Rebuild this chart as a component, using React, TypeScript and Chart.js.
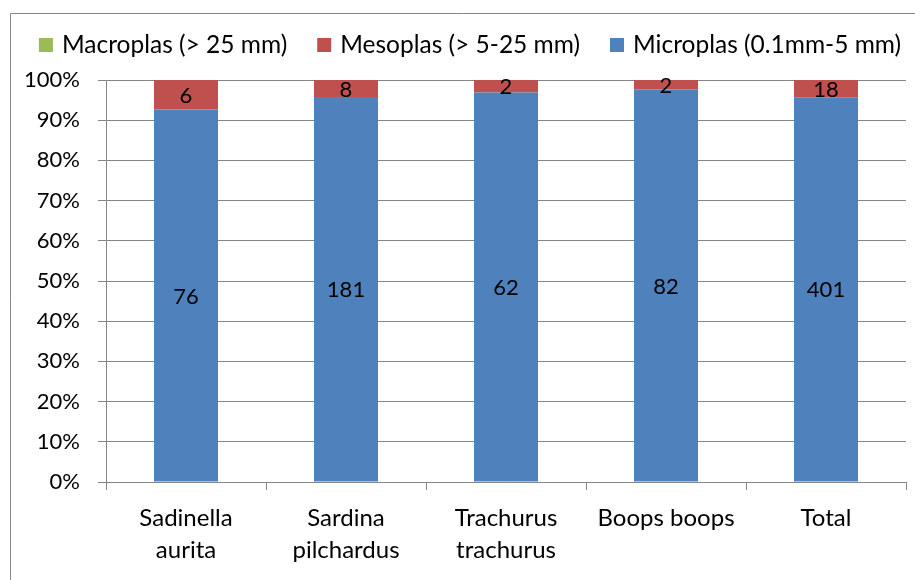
import React, { useEffect, useRef } from "react";
import { Chart, registerables } from "chart.js";

Chart.register(...registerables);

const categories: (string | string[])[] = [
  ["Sadinella", "aurita"],
  ["Sardina", "pilchardus"],
  ["Trachurus", "trachurus"],
  "Boops boops",
  "Total",
];
const microplas = [76, 181, 62, 82, 401];
const mesoplas = [6, 8, 2, 2, 18];
const macroplas = [0, 0, 0, 0, 0];
const seriesNames = ["Microplas (0.1mm-5 mm)", "Mesoplas (> 5-25 mm)", "Macroplas (> 25 mm)"];
const seriesColors = ["#4F81BD", "#C0504D", "#9BBB59"];
const yTicks = [0, 10, 20, 30, 40, 50, 60, 70, 80, 90, 100];

const FONT = "Lato";
const TEXT_FS = 24;
const LEGEND_FS = 24.5;
const NUM_FS = 22;
const YTICK_FS = 22;
const GRID = "#868686";

const totals = microplas.map((v, i) => v + mesoplas[i] + macroplas[i]);
const pct = (arr: number[]) => arr.map((v, i) => (v / totals[i]) * 100);
const rawSeries = [microplas, mesoplas, macroplas];

const framePlugin = {
  id: "frame",
  beforeDraw(chart: any) {
    const ctx = chart.ctx;
    ctx.save();
    ctx.fillStyle = "#fff";
    ctx.fillRect(0, 0, chart.width, chart.height);
    ctx.strokeStyle = GRID;
    ctx.lineWidth = 1;
    ctx.beginPath();
    ctx.moveTo(10.5, chart.height + 5);
    ctx.lineTo(10.5, 13.5);
    ctx.lineTo(chart.width + 5, 13.5);
    ctx.stroke();
    ctx.restore();
  },
};

const legendPlugin = {
  id: "customLegend",
  afterDraw(chart: any) {
    const ctx = chart.ctx;
    ctx.save();
    ctx.font = `${LEGEND_FS}px ${FONT}`;
    ctx.textBaseline = "middle";
    ctx.textAlign = "left";
    const box = 14;
    const gap = 9;
    const spacing = 30;
    const order = [2, 1, 0];
    const widths = order.map((i) => box + gap + ctx.measureText(seriesNames[i]).width);
    const total = widths.reduce((a, b) => a + b, 0) + spacing * (order.length - 1);
    let x = 470 - total / 2;
    const cy = 45;
    order.forEach((i, k) => {
      ctx.fillStyle = seriesColors[i];
      ctx.fillRect(x, cy - 7, box, box);
      ctx.fillStyle = "#000";
      ctx.fillText(seriesNames[i], x + box + gap, cy);
      x += widths[k] + spacing;
    });
    ctx.restore();
  },
};

const valueLabelPlugin = {
  id: "valueLabels",
  afterDatasetsDraw(chart: any) {
    const ctx = chart.ctx;
    ctx.save();
    ctx.font = `${NUM_FS}px ${FONT}`;
    ctx.fillStyle = "#000";
    ctx.textAlign = "center";
    ctx.textBaseline = "middle";
    chart.data.datasets.forEach((_ds: any, di: number) => {
      const meta = chart.getDatasetMeta(di);
      meta.data.forEach((bar: any, i: number) => {
        const raw = rawSeries[di][i];
        if (!raw) return;
        const y = (bar.y + bar.base) / 2;
        ctx.fillText(String(raw), bar.x, y + 1);
      });
    });
    ctx.restore();
  },
};

export default function App() {
  const ref = useRef<HTMLCanvasElement>(null);
  useEffect(() => {
    if (!ref.current) return;
    const chart = new Chart(ref.current, {
      type: "bar",
      data: {
        labels: categories,
        datasets: [
          { label: seriesNames[0], data: pct(microplas), backgroundColor: seriesColors[0] },
          { label: seriesNames[1], data: pct(mesoplas), backgroundColor: seriesColors[1] },
          { label: seriesNames[2], data: pct(macroplas), backgroundColor: seriesColors[2] },
        ],
      },
      options: {
        responsive: false,
        animation: false,
        events: [],
        layout: { padding: { top: 80, left: 0, right: 9, bottom: 0 } },
        datasets: { bar: { categoryPercentage: 1, barPercentage: 0.4 } },
        plugins: {
          legend: { display: false },
          tooltip: { enabled: false },
        },
        scales: {
          x: {
            stacked: true,
            afterFit: (s: any) => {
              s.height = 98;
            },
            grid: {
              offset: true,
              drawOnChartArea: false,
              drawTicks: true,
              tickLength: 8,
              color: GRID,
            },
            border: { color: GRID, width: 1 },
            ticks: {
              color: "#000",
              padding: 12,
              maxRotation: 0,
              autoSkip: false,
              font: { family: FONT, size: TEXT_FS, lineHeight: 32 / TEXT_FS },
            },
          },
          y: {
            stacked: true,
            min: 0,
            max: 100,
            afterFit: (s: any) => {
              s.width = 106;
            },
            afterBuildTicks: (s: any) => {
              s.ticks = yTicks.map((v) => ({ value: v }));
            },
            grid: { color: GRID, tickLength: 8 },
            border: { color: GRID, width: 1 },
            ticks: {
              color: "#000",
              padding: 18,
              font: { family: FONT, size: YTICK_FS },
              callback: (v: any) => `${v}%`,
            },
          },
        },
      },
      plugins: [framePlugin, valueLabelPlugin, legendPlugin],
    });
    return () => chart.destroy();
  }, []);
  return (
    <div style={{ position: "fixed", left: 0, top: 0, width: 915, height: 580, overflow: "hidden", background: "#fff" }}>
      <canvas ref={ref} width={915} height={580} style={{ display: "block", width: 915, height: 580 }} />
    </div>
  );
}
